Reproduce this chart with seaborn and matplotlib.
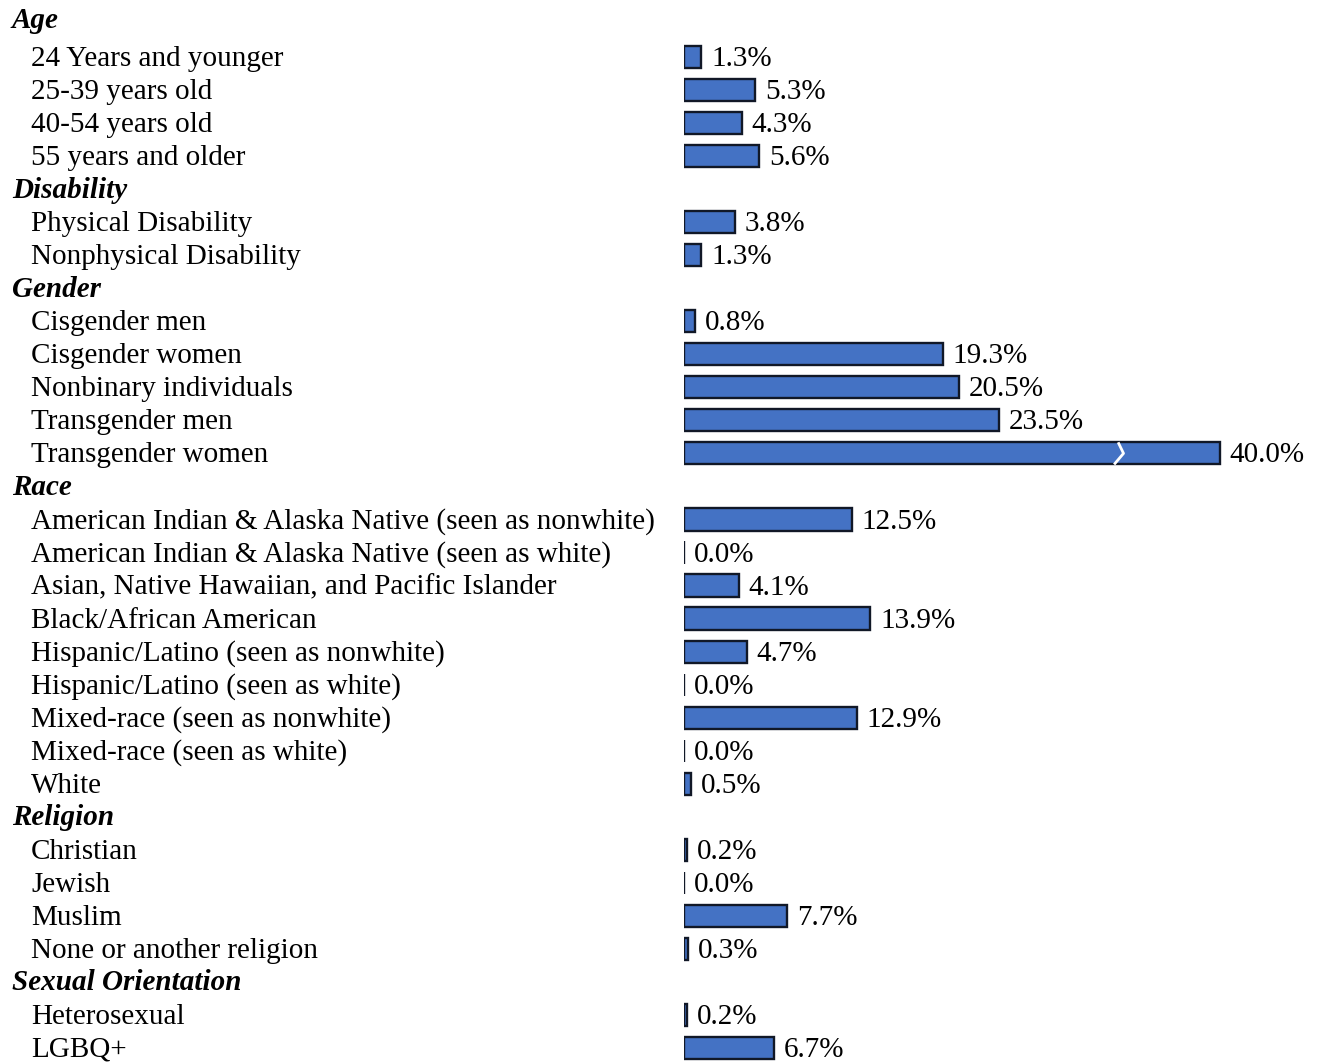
import numpy as np
import pandas as pd
import seaborn as sns
import matplotlib.pyplot as plt
import matplotlib.transforms as mtransforms

# Datos por grupo (porcentajes)
age_labels = ["24 Years and younger", "25-39 years old", "40-54 years old", "55 years and older"]
age_values = [1.3, 5.3, 4.3, 5.6]

disability_labels = ["Physical Disability", "Nonphysical Disability"]
disability_values = [3.8, 1.3]

gender_labels = ["Cisgender men", "Cisgender women", "Nonbinary individuals",
                 "Transgender men", "Transgender women"]
gender_values = [0.8, 19.3, 20.5, 23.5, 40.0]

race_labels = ["American Indian & Alaska Native (seen as nonwhite)",
               "American Indian & Alaska Native (seen as white)",
               "Asian, Native Hawaiian, and Pacific Islander",
               "Black/African American",
               "Hispanic/Latino (seen as nonwhite)",
               "Hispanic/Latino (seen as white)",
               "Mixed-race (seen as nonwhite)",
               "Mixed-race (seen as white)",
               "White"]
race_values = [12.5, 0.0, 4.1, 13.9, 4.7, 0.0, 12.9, 0.0, 0.5]

religion_labels = ["Christian", "Jewish", "Muslim", "None or another religion"]
religion_values = [0.2, 0.0, 7.7, 0.3]

orientation_labels = ["Heterosexual", "LGBQ+"]
orientation_values = [0.2, 6.7]

groups = [
    ("Age", age_labels, age_values),
    ("Disability", disability_labels, disability_values),
    ("Gender", gender_labels, gender_values),
    ("Race", race_labels, race_values),
    ("Religion", religion_labels, religion_values),
    ("Sexual Orientation", orientation_labels, orientation_values),
]

# Construir el orden de filas (encabezados + categorias)
order, rows = [], []
for g, labs, vals in groups:
    order.append("H:" + g)
    for l, v in zip(labs, vals):
        key = g + ":" + l
        order.append(key)
        rows.append({"key": key, "label": l, "group": g, "value": v})
df = pd.DataFrame(rows)

plt.rcParams["font.family"] = ["Liberation Serif", "DejaVu Serif"]
W, H = 1318, 1063
fig = plt.figure(figsize=(W / 100, H / 100), dpi=100)

px_per_pct = 13.4
x0 = 684
ax = fig.add_axes([x0 / W, 0, (W - x0) / W, 1])
sns.barplot(data=df, x="value", y="key", order=order, orient="h",
            color="#4472C4", edgecolor="#111827", linewidth=1.7,
            width=0.67, saturation=1, ax=ax)

ax.set_xlim(0, (W - x0) / px_per_pct)
row0, step = 24, 33.03
ax.set_ylim((H - row0) / step, -row0 / step)
ax.axis("off")

cont = ax.containers[0]
labs = ax.bar_label(cont, labels=[f"{v:.1f}%" for v in df["value"]],
                    padding=7, fontsize=21, color="black")
for t in labs:
    t.xyann = (7, -1.5)

# Marca de corte en la barra mayor
big = cont.patches[int(df["value"].idxmax())]
bx = big.get_x() + big.get_width() * 0.81
by, bh = big.get_y(), big.get_height()
ax.plot([bx, bx + 0.4, bx - 0.3], [by, by + bh * 0.5, by + bh],
        color="white", lw=2.0, solid_capstyle="butt")

# Etiquetas de la izquierda
trans = mtransforms.blended_transform_factory(fig.transFigure, ax.transData)
for i, key in enumerate(order):
    if key.startswith("H:"):
        dy = 4 if i == 0 else -1
        tr = mtransforms.offset_copy(trans, fig=fig, x=0, y=dy, units="dots")
        ax.text(12 / W, i, key[2:], transform=tr, fontsize=21,
                fontweight="bold", fontstyle="italic", va="center", ha="left",
                color="black")
    else:
        lab = df.loc[df["key"] == key, "label"].iloc[0]
        tr = mtransforms.offset_copy(trans, fig=fig, x=0, y=-2, units="dots")
        ax.text(31 / W, i, lab, transform=tr, fontsize=21,
                va="center", ha="left", color="black")

fig.savefig("out.png", dpi=100)
